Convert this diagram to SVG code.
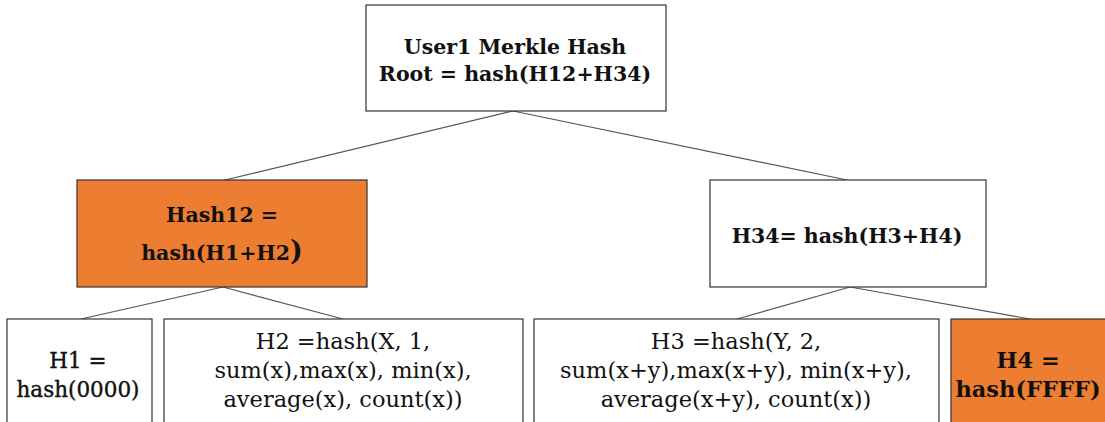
<svg xmlns="http://www.w3.org/2000/svg" width="1105" height="422" viewBox="0 0 1105 422">
  <style>
    .box { fill: #ffffff; stroke: #333333; stroke-width: 1.2; }
    .hot { fill: #ED7D31; stroke: #333333; stroke-width: 1.2; }
    .edge { stroke: #555555; stroke-width: 1.2; fill: none; }
    text { font-family: "DejaVu Serif", "Liberation Serif", serif; fill: #111111; text-anchor: middle; }
    .b { font-weight: bold; font-size: 20.5px; }
    .n { font-size: 22.5px; }
    .m { font-size: 21.5px; stroke: #111111; stroke-width: 0.4; }
    .k { font-weight: bold; font-size: 22.5px; }
  </style>
  <rect width="1105" height="422" fill="#ffffff"/>

  <g id="connectors">
    <line class="edge" x1="513" y1="111" x2="225" y2="180"/>
    <line class="edge" x1="513" y1="111" x2="847" y2="180"/>
    <line class="edge" x1="223" y1="287" x2="81" y2="319"/>
    <line class="edge" x1="223" y1="287" x2="343" y2="319"/>
    <line class="edge" x1="850" y1="287" x2="737" y2="319"/>
    <line class="edge" x1="850" y1="287" x2="1030" y2="319"/>
  </g>

  <g id="root">
    <rect class="box" x="366" y="5" width="300" height="106"/>
    <text class="b" x="515" y="54">User1 Merkle Hash</text>
    <text class="b" x="515" y="81">Root = hash(H12+H34)</text>
  </g>

  <g id="hash12">
    <rect class="hot" x="77" y="180" width="290" height="107"/>
    <text class="b" x="222" y="222">Hash12 =</text>
    <text class="b" x="222" y="260">hash(H1+H2<tspan font-size="27px">)</tspan></text>
  </g>

  <g id="h34">
    <rect class="box" x="710" y="180" width="276" height="107"/>
    <text class="b" x="847" y="243">H34= hash(H3+H4)</text>
  </g>

  <g id="h1">
    <rect class="box" x="7" y="319" width="145" height="130"/>
    <text class="m" x="78" y="368">H1 =</text>
    <text class="m" x="78" y="397">hash(0000)</text>
  </g>

  <g id="h2">
    <rect class="box" x="164" y="319" width="359" height="130"/>
    <text class="n" x="343" y="349">H2 =hash(X, 1,</text>
    <text class="n" x="343" y="378">sum(x),max(x), min(x),</text>
    <text class="n" x="343" y="407">average(x), count(x))</text>
  </g>

  <g id="h3">
    <rect class="box" x="534" y="319" width="405" height="130"/>
    <text class="n" x="736" y="349">H3 =hash(Y, 2,</text>
    <text class="n" x="736" y="378">sum(x+y),max(x+y), min(x+y),</text>
    <text class="n" x="736" y="407">average(x+y), count(x))</text>
  </g>

  <g id="h4">
    <rect class="hot" x="951" y="319" width="170" height="130"/>
    <text class="k" x="1028" y="368">H4 =</text>
    <text class="k" x="1028" y="397">hash(FFFF)</text>
  </g>
</svg>
